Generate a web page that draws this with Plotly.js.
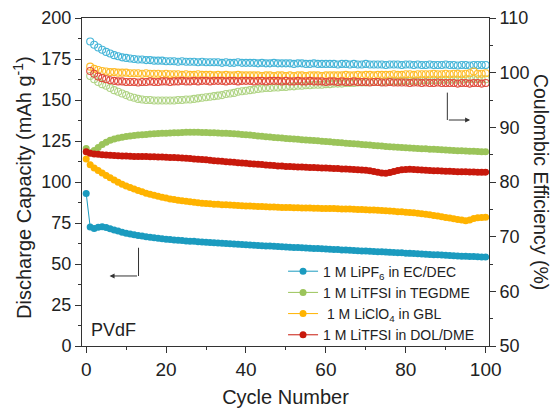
<!DOCTYPE html>
<html>
<head>
<meta charset="utf-8">
<script src="https://cdn.plot.ly/plotly-3.0.1.min.js"></script>
<style>html,body{margin:0;padding:0;background:#fff;}#chart{width:553px;height:408px;}</style>
</head>
<body>
<div id="chart"></div>
<script>
// ---- Data ----
const seriesNames = ["1 M LiPF<sub>6</sub> in EC/DEC", "1 M LiTFSI in TEGDME", "\u00a01 M LiClO<sub>4</sub> in GBL", "1 M LiTFSI in DOL/DME"];

// discharge capacity, cycles 0..100
const capLiPF6 = [93.0, 72.5, 71.6, 72.4, 72.7, 72.2, 71.5, 70.8, 70.1, 69.4,
 68.8, 68.3, 67.8, 67.4, 67.0, 66.6, 66.3, 66.0, 65.7, 65.4,
 65.1, 64.9, 64.7, 64.5, 64.3, 64.1, 63.9, 63.8, 63.6, 63.4,
 63.2, 63.1, 62.9, 62.8, 62.6, 62.5, 62.3, 62.2, 62.0, 61.9,
 61.7, 61.6, 61.4, 61.3, 61.2, 61.0, 60.9, 60.8, 60.6, 60.5,
 60.4, 60.2, 60.1, 60.0, 59.9, 59.7, 59.6, 59.5, 59.4, 59.3,
 59.1, 59.0, 58.9, 58.8, 58.6, 58.5, 58.4, 58.3, 58.1, 58.0,
 57.9, 57.8, 57.6, 57.5, 57.4, 57.3, 57.1, 57.0, 56.9, 56.8,
 56.6, 56.5, 56.4, 56.2, 56.1, 56.0, 55.8, 55.7, 55.6, 55.5,
 55.3, 55.2, 55.1, 54.9, 54.8, 54.7, 54.6, 54.5, 54.4, 54.3,
 54.2];
const capTEGDME = [120.5, 117.8, 119.2, 121.0, 122.8, 124.3, 125.4, 126.2, 126.8, 127.3,
 127.7, 128.0, 128.3, 128.6, 128.8, 129.0, 129.2, 129.4, 129.5, 129.7,
 129.8, 129.9, 130.0, 130.1, 130.2, 130.3, 130.3, 130.3, 130.3, 130.2,
 130.2, 130.1, 130.0, 129.9, 129.8, 129.7, 129.5, 129.4, 129.2, 129.0,
 128.8, 128.6, 128.4, 128.1, 127.9, 127.6, 127.4, 127.2, 127.0, 126.8,
 126.6, 126.4, 126.2, 126.0, 125.8, 125.6, 125.5, 125.3, 125.1, 124.9,
 124.7, 124.5, 124.3, 124.1, 123.9, 123.7, 123.5, 123.3, 123.1, 122.9,
 122.7, 122.5, 122.3, 122.1, 121.9, 121.7, 121.5, 121.4, 121.2, 121.1,
 120.9, 120.8, 120.6, 120.5, 120.3, 120.2, 120.0, 119.9, 119.8, 119.6,
 119.5, 119.4, 119.2, 119.1, 119.0, 118.9, 118.8, 118.7, 118.6, 118.5,
 118.4];
const capGBL = [114.0, 110.5, 108.6, 107.0, 105.5, 104.0, 102.6, 101.2, 99.9, 98.7,
 97.6, 96.6, 95.7, 94.8, 94.0, 93.2, 92.5, 91.9, 91.3, 90.7,
 90.2, 89.7, 89.3, 88.9, 88.5, 88.2, 87.9, 87.6, 87.3, 87.1,
 86.9, 86.7, 86.5, 86.4, 86.2, 86.1, 85.9, 85.8, 85.6, 85.5,
 85.4, 85.3, 85.2, 85.1, 85.0, 84.9, 84.8, 84.7, 84.6, 84.5,
 84.5, 84.4, 84.3, 84.3, 84.2, 84.2, 84.1, 84.0, 84.0, 83.9,
 83.9, 83.8, 83.8, 83.7, 83.6, 83.6, 83.5, 83.4, 83.3, 83.2,
 83.1, 83.0, 82.9, 82.7, 82.6, 82.4, 82.3, 82.1, 81.9, 81.8,
 81.6, 81.4, 81.2, 80.9, 80.6, 80.3, 80.0, 79.6, 79.2, 78.8,
 78.4, 78.0, 77.6, 77.2, 76.8, 76.4, 76.9, 77.8, 78.2, 78.4,
 78.5];
const capDOL = [118.5, 117.6, 117.1, 116.9, 116.6, 116.4, 116.3, 116.1, 116.0, 115.9,
 115.8, 115.7, 115.6, 115.6, 115.5, 115.5, 115.4, 115.4, 115.3, 115.2,
 115.1, 115.0, 114.9, 114.8, 114.7, 114.5, 114.3, 114.1, 113.9, 113.7,
 113.5, 113.3, 113.0, 112.8, 112.6, 112.4, 112.2, 112.0, 111.8, 111.6,
 111.4, 111.2, 111.0, 110.8, 110.6, 110.4, 110.2, 110.0, 109.8, 109.7,
 109.5, 109.4, 109.3, 109.2, 109.1, 109.0, 108.9, 108.8, 108.7, 108.6,
 108.5, 108.4, 108.3, 108.2, 108.0, 107.9, 107.7, 107.6, 107.4, 107.3,
 107.1, 106.8, 106.4, 105.9, 105.5, 105.4, 105.8, 106.4, 107.0, 107.4,
 107.6, 107.7, 107.6, 107.5, 107.3, 107.2, 107.0, 106.9, 106.8, 106.7,
 106.6, 106.5, 106.4, 106.3, 106.3, 106.2, 106.1, 106.1, 106.0, 106.0,
 106.0];

// coulombic efficiency, cycles 1..100
const ceLiPF6 = [105.7, 105.1, 104.6, 104.2, 103.8, 103.5, 103.2, 103.0, 102.8, 102.7,
 102.6, 102.5, 102.4, 102.4, 102.3, 102.3, 102.2, 102.2, 102.2, 102.1,
 102.1, 102.1, 102.0, 102.1, 102.0, 102.0, 102.0, 101.9, 102.0, 101.9,
 101.9, 101.9, 101.9, 101.8, 101.9, 101.8, 101.8, 101.9, 101.8, 101.8,
 101.8, 101.8, 101.7, 101.8, 101.7, 101.7, 101.8, 101.7, 101.7, 101.7,
 101.7, 101.6, 101.7, 101.7, 101.6, 101.6, 101.7, 101.6, 101.6, 101.6,
 101.6, 101.6, 101.5, 101.6, 101.6, 101.5, 101.6, 101.5, 101.5, 101.6,
 101.5, 101.5, 101.5, 101.5, 101.4, 101.5, 101.5, 101.5, 101.4, 101.5,
 101.5, 101.4, 101.5, 101.4, 101.4, 101.5, 101.4, 101.4, 101.4, 101.5,
 101.4, 101.4, 101.3, 101.4, 101.4, 101.3, 101.4, 101.4, 101.4, 101.4];
const ceTEGDME = [99.4, 98.8, 98.3, 97.9, 97.6, 97.2, 96.8, 96.5, 96.2, 95.9,
 95.6, 95.4, 95.2, 95.1, 95.0, 95.0, 94.9, 94.9, 94.9, 94.9,
 94.9, 94.9, 95.0, 95.0, 95.1, 95.1, 95.2, 95.3, 95.4, 95.5,
 95.6, 95.7, 95.8, 95.9, 96.1, 96.2, 96.3, 96.5, 96.6, 96.7,
 96.8, 96.9, 97.0, 97.1, 97.2, 97.2, 97.3, 97.3, 97.4, 97.4,
 97.5, 97.5, 97.6, 97.6, 97.7, 97.7, 97.8, 97.8, 97.8, 97.9,
 97.9, 98.0, 98.0, 98.0, 98.1, 98.1, 98.1, 98.2, 98.2, 98.2,
 98.3, 98.3, 98.3, 98.3, 98.4, 98.4, 98.4, 98.4, 98.5, 98.5,
 98.5, 98.5, 98.5, 98.6, 98.6, 98.6, 98.6, 98.6, 98.7, 98.7,
 98.7, 98.7, 98.7, 98.7, 98.8, 98.8, 98.8, 98.8, 98.8, 98.8];
const ceGBL = [101.1, 100.7, 100.5, 100.3, 100.2, 100.1, 100.1, 100.0, 100.0, 100.0,
 99.9, 99.9, 99.9, 99.8, 99.9, 99.8, 99.8, 99.8, 99.7, 99.8,
 99.7, 99.7, 99.7, 99.6, 99.7, 99.6, 99.6, 99.7, 99.6, 99.6,
 99.6, 99.5, 99.6, 99.5, 99.6, 99.5, 99.5, 99.6, 99.5, 99.5,
 99.5, 99.5, 99.5, 99.4, 99.5, 99.5, 99.4, 99.5, 99.5, 99.4,
 99.5, 99.4, 99.5, 99.5, 99.4, 99.5, 99.5, 99.5, 99.4, 99.5,
 99.5, 99.5, 99.5, 99.5, 99.6, 99.5, 99.5, 99.6, 99.5, 99.6,
 99.6, 99.5, 99.6, 99.6, 99.6, 99.6, 99.7, 99.6, 99.6, 99.7,
 99.7, 99.6, 99.7, 99.7, 99.7, 99.7, 99.8, 99.7, 99.7, 99.8,
 99.7, 99.8, 99.8, 99.7, 99.8, 99.9, 100.2, 99.8, 99.8, 99.9];
const ceDOL = [100.3, 99.8, 99.3, 99.0, 98.8, 98.6, 98.5, 98.4, 98.4, 98.3,
 98.3, 98.3, 98.2, 98.3, 98.3, 98.4, 98.3, 98.3, 98.4, 98.4,
 98.3, 98.4, 98.4, 98.5, 98.4, 98.4, 98.5, 98.4, 98.5, 98.5,
 98.4, 98.5, 98.5, 98.5, 98.4, 98.5, 98.5, 98.4, 98.5, 98.5,
 98.5, 98.4, 98.5, 98.5, 98.4, 98.5, 98.5, 98.5, 98.4, 98.5,
 98.4, 98.4, 98.5, 98.4, 98.4, 98.5, 98.4, 98.4, 98.4, 98.3,
 98.4, 98.4, 98.3, 98.4, 98.3, 98.3, 98.4, 98.3, 98.3, 98.3,
 98.2, 98.3, 98.3, 98.2, 98.2, 98.3, 98.2, 98.2, 98.2, 98.2,
 98.1, 98.2, 98.2, 98.1, 98.2, 98.1, 98.1, 98.2, 98.1, 98.1,
 98.1, 98.1, 98.0, 98.1, 98.1, 98.0, 98.1, 98.1, 98.0, 98.1];

// cycle numbers (index axis)
const capCycles = Array.from({length: capLiPF6.length}, (_, i) => i);
const ceCycles = Array.from({length: ceLiPF6.length}, (_, i) => i + 1);

const capSeries = [capLiPF6, capTEGDME, capGBL, capDOL];
const ceSeries = [ceLiPF6, ceTEGDME, ceGBL, ceDOL];
const fillColors = ["#1b9bbf", "#9bc45a", "#ffb300", "#c8190c"];
const ceColors = ["#45b5d8", "#b0d485", "#ffbc2a", "#e04a3c"];

const traces = [];
capSeries.forEach((ys, k) => {
  traces.push({
    x: capCycles, y: ys, name: seriesNames[k], type: "scatter", mode: "lines+markers",
    line: {color: fillColors[k], width: 1},
    marker: {color: fillColors[k], size: 7, symbol: "circle", line: {width: 0}},
    xaxis: "x", yaxis: "y"
  });
});
ceSeries.forEach((ys, k) => {
  traces.push({
    x: ceCycles, y: ys, name: seriesNames[k] + " CE", type: "scatter", mode: "markers",
    showlegend: false,
    marker: {color: ceColors[k], size: 7, symbol: "circle-open", line: {color: ceColors[k], width: 1.1}},
    xaxis: "x", yaxis: "y2"
  });
});

const axisColor = "#333";
const font = "'Liberation Sans', Arial, sans-serif";
const layout = {
  width: 553, height: 408,
  margin: {l: 82, r: 64, t: 18, b: 62},
  paper_bgcolor: "#fff", plot_bgcolor: "#fff",
  font: {family: font, color: "#222"},
  showlegend: true,
  legend: {x: 0.494, y: -0.014, xanchor: "left", yanchor: "bottom", bgcolor: "rgba(0,0,0,0)",
           font: {size: 14, family: font, color: "#222"}, tracegroupgap: 0, itemwidth: 30},
  xaxis: {
    range: [-1.05, 100.83], tick0: 0, dtick: 20, ticks: "outside", ticklen: 6, tickwidth: 1, tickcolor: axisColor,
    showline: true, linecolor: axisColor, linewidth: 1, mirror: true, showgrid: false, zeroline: false,
    tickfont: {size: 19, family: font, color: "#222"},
    minor: {dtick: 10, ticks: "outside", ticklen: 3, tickcolor: axisColor, showgrid: false},
    title: {text: "Cycle Number", font: {size: 20, family: font, color: "#222"}, standoff: 14}
  },
  yaxis: {
    range: [0, 200], tick0: 0, dtick: 25, ticks: "outside", ticklen: 6, tickwidth: 1, tickcolor: axisColor,
    showline: true, linecolor: axisColor, linewidth: 1, showgrid: false, zeroline: false,
    tickfont: {size: 18, family: font, color: "#222"},
    minor: {dtick: 12.5, ticks: "outside", ticklen: 3, tickcolor: axisColor, showgrid: false}
  },
  yaxis2: {
    overlaying: "y", side: "right", range: [50, 110], tick0: 50, dtick: 10,
    ticks: "outside", ticklen: 6, tickwidth: 1, tickcolor: axisColor,
    showline: true, linecolor: axisColor, linewidth: 1, showgrid: false, zeroline: false,
    tickfont: {size: 18, family: font, color: "#222"},
    minor: {dtick: 5, ticks: "outside", ticklen: 3, tickcolor: axisColor, showgrid: false}
  },
  shapes: [
    {type: "line", xref: "x", yref: "y", x0: 13.1, x1: 13.1, y0: 59.9, y1: 42.7, line: {color: axisColor, width: 1}},
    {type: "line", xref: "x", yref: "y", x0: 90.4, x1: 90.4, y0: 154.5, y1: 137.8, line: {color: axisColor, width: 1}}
  ],
  annotations: [
    {xref: "paper", yref: "paper", x: -0.145, y: 0.485, text: "Discharge Capacity (mAh g<sup>-1</sup>)", textangle: -90,
     showarrow: false, font: {size: 20, family: font, color: "#222"}, xanchor: "center", yanchor: "middle"},
    {xref: "paper", yref: "paper", x: 1.128, y: 0.5, text: "Coulombic Efficiency (%)", textangle: 90,
     showarrow: false, font: {size: 19.5, family: font, color: "#222"}, xanchor: "center", yanchor: "middle"},
    {xref: "paper", yref: "paper", x: 0.017, y: 0.05, text: "PVdF", showarrow: false,
     font: {size: 18, family: font, color: "#222"}, xanchor: "left", yanchor: "middle"},
    {xref: "x", yref: "y", x: 5.85, y: 42.7, axref: "x", ayref: "y", ax: 13.1, ay: 42.7, text: "",
     showarrow: true, arrowhead: 2, arrowsize: 1, arrowwidth: 1, arrowcolor: axisColor},
    {xref: "x", yref: "y", x: 96.1, y: 137.8, axref: "x", ayref: "y", ax: 90.4, ay: 137.8, text: "",
     showarrow: true, arrowhead: 2, arrowsize: 1, arrowwidth: 1, arrowcolor: axisColor}
  ]
};

Plotly.newPlot("chart", traces, layout, {displayModeBar: false, staticPlot: true});
</script>
</body>
</html>
